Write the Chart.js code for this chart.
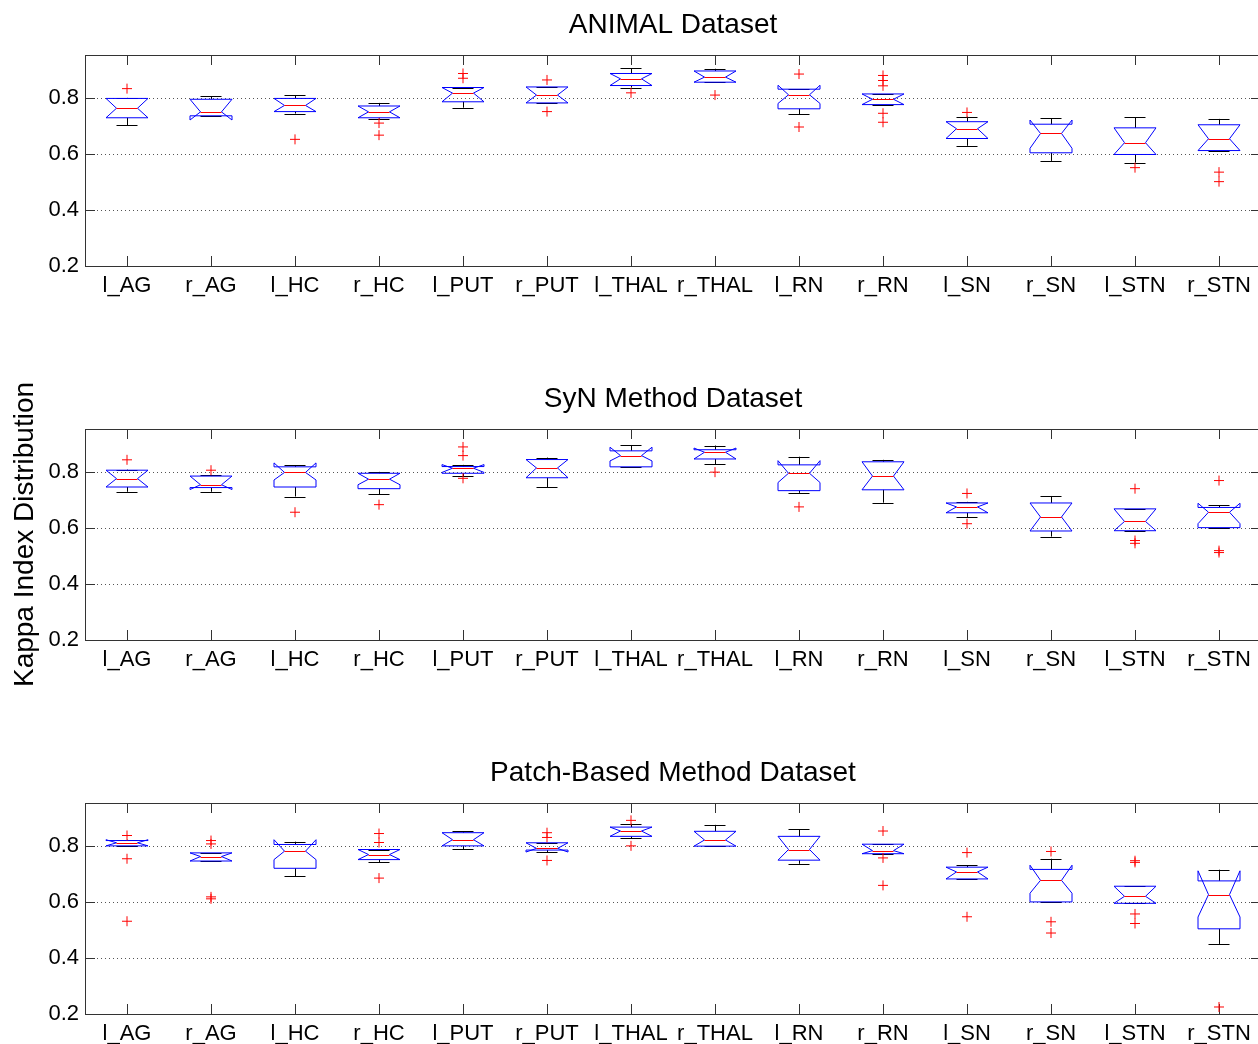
<!DOCTYPE html>
<html>
<head>
<meta charset="utf-8">
<script src="https://cdn.jsdelivr.net/npm/chart.js@4.4.0/dist/chart.umd.min.js"></script>
<style>
body { margin: 0; background: #fff; }
#wrap { position: relative; width: 1258px; height: 1044px; overflow: hidden; }
.panel { position: absolute; left: 0; width: 1261px; height: 340px; }
</style>
</head>
<body>
<div id="wrap">
  <div class="panel" style="top:0px"><canvas id="c1"></canvas></div>
  <div class="panel" style="top:374px"><canvas id="c2"></canvas></div>
  <div class="panel" style="top:748px"><canvas id="c3"></canvas></div>
</div>
<script>
const categories = ["l_AG", "r_AG", "l_HC", "r_HC", "l_PUT", "r_PUT", "l_THAL", "r_THAL", "l_RN", "r_RN", "l_SN", "r_SN", "l_STN", "r_STN"]
const yTicks = [0.2, 0.4, 0.6, 0.8]
const yMin = 0.2
const yMax = 0.953

// ANIMAL Dataset
const animalHi   = [0.800, 0.806, 0.810, 0.782, 0.837, 0.839, 0.906, 0.904, 0.831, 0.814, 0.733, 0.727, 0.731, 0.725]
const animalQ3   = [0.798, 0.795, 0.798, 0.771, 0.837, 0.839, 0.887, 0.896, 0.831, 0.814, 0.715, 0.706, 0.693, 0.704]
const animalNHi  = [0.798, 0.795, 0.798, 0.771, 0.837, 0.839, 0.887, 0.896, 0.845, 0.814, 0.715, 0.721, 0.693, 0.704]
const animalMed  = [0.763, 0.750, 0.773, 0.750, 0.817, 0.810, 0.868, 0.874, 0.811, 0.795, 0.690, 0.673, 0.640, 0.654]
const animalNLo  = [0.729, 0.721, 0.751, 0.729, 0.786, 0.782, 0.844, 0.856, 0.780, 0.776, 0.655, 0.620, 0.598, 0.612]
const animalQ1   = [0.729, 0.736, 0.751, 0.729, 0.786, 0.782, 0.844, 0.856, 0.761, 0.776, 0.655, 0.604, 0.598, 0.612]
const animalLo   = [0.702, 0.736, 0.744, 0.726, 0.765, 0.782, 0.837, 0.856, 0.742, 0.776, 0.629, 0.575, 0.569, 0.612]
const animalOut  = [[0.833], [], [0.652], [0.710, 0.667], [0.887, 0.870], [0.864, 0.751], [0.818], [0.810],
                    [0.885, 0.696], [0.880, 0.862, 0.843, 0.745, 0.713], [0.748], [], [0.551], [0.535, 0.501]]

// SyN Method Dataset
const synHi   = [0.808, 0.788, 0.824, 0.800, 0.825, 0.851, 0.896, 0.894, 0.854, 0.843, 0.693, 0.714, 0.668, 0.680]
const synQ3   = [0.806, 0.785, 0.818, 0.795, 0.819, 0.844, 0.875, 0.879, 0.825, 0.836, 0.689, 0.689, 0.668, 0.673]
const synNHi  = [0.806, 0.785, 0.832, 0.795, 0.826, 0.844, 0.888, 0.885, 0.840, 0.836, 0.689, 0.689, 0.668, 0.688]
const synMed  = [0.776, 0.754, 0.798, 0.774, 0.813, 0.814, 0.858, 0.870, 0.795, 0.785, 0.675, 0.639, 0.623, 0.656]
const synNLo  = [0.746, 0.737, 0.771, 0.754, 0.798, 0.779, 0.839, 0.846, 0.762, 0.736, 0.654, 0.589, 0.590, 0.615]
const synQ1   = [0.746, 0.744, 0.746, 0.740, 0.795, 0.779, 0.818, 0.846, 0.733, 0.736, 0.654, 0.589, 0.590, 0.601]
const synLo   = [0.729, 0.729, 0.712, 0.721, 0.785, 0.746, 0.818, 0.827, 0.725, 0.690, 0.638, 0.569, 0.590, 0.601]
const synOut  = [[0.843], [0.806], [0.656], [0.683], [0.889, 0.858, 0.777], [], [], [0.799],
                 [0.675], [], [0.723, 0.615], [], [0.740, 0.555, 0.545], [0.769, 0.519, 0.512]]

// Patch-Based Method Dataset
const patchHi   = [0.822, 0.775, 0.815, 0.787, 0.853, 0.811, 0.879, 0.875, 0.860, 0.806, 0.730, 0.754, 0.656, 0.715]
const patchQ3   = [0.819, 0.775, 0.805, 0.787, 0.847, 0.811, 0.867, 0.852, 0.834, 0.806, 0.724, 0.716, 0.656, 0.675]
const patchNHi  = [0.822, 0.775, 0.822, 0.787, 0.847, 0.811, 0.867, 0.852, 0.834, 0.806, 0.724, 0.731, 0.656, 0.711]
const patchMed  = [0.811, 0.762, 0.781, 0.769, 0.822, 0.791, 0.853, 0.821, 0.787, 0.783, 0.707, 0.677, 0.620, 0.626]
const patchNLo  = [0.800, 0.746, 0.751, 0.751, 0.800, 0.778, 0.834, 0.799, 0.749, 0.772, 0.682, 0.631, 0.595, 0.546]
const patchQ1   = [0.800, 0.746, 0.720, 0.751, 0.800, 0.785, 0.834, 0.799, 0.749, 0.772, 0.682, 0.600, 0.595, 0.504]
const patchLo   = [0.800, 0.746, 0.691, 0.741, 0.788, 0.778, 0.827, 0.799, 0.736, 0.772, 0.682, 0.600, 0.595, 0.450]
const patchOut  = [[0.837, 0.754, 0.531], [0.819, 0.807, 0.618, 0.611], [], [0.844, 0.812, 0.685], [], [0.847, 0.830, 0.748],
                   [0.891, 0.800], [], [], [0.853, 0.757, 0.659], [0.776, 0.547], [0.780, 0.529, 0.489],
                   [0.747, 0.741, 0.557, 0.523], [0.225]]

const font = "Liberation Sans"

function boxPlugin(s) {
  return {
    id: "notchBoxes",
    beforeDatasetsDraw(chart) {
      const ctx = chart.ctx
      const a = chart.chartArea
      const x = chart.scales.x
      const y = chart.scales.y
      const r = v => Math.round(v) + 0.5
      const Y = v => y.getPixelForValue(v)
      const line = (x1, y1, x2, y2) => {
        ctx.beginPath(); ctx.moveTo(x1, y1); ctx.lineTo(x2, y2); ctx.stroke()
      }
      ctx.save()
      ctx.lineWidth = 1

      // dotted grid
      ctx.strokeStyle = "#555"
      ctx.setLineDash([1, 3])
      yTicks.forEach(t => {
        if (t <= yMin) return
        line(a.left, r(Y(t)), a.right, r(Y(t)))
      })
      ctx.setLineDash([])

      // frame and inward ticks
      ctx.strokeStyle = "#333"
      ctx.strokeRect(r(a.left), r(a.top), Math.round(a.right - a.left), Math.round(a.bottom - a.top))
      categories.forEach((c, i) => {
        const cx = r(x.getPixelForValue(i + 1))
        line(cx, a.top, cx, a.top + 10)
        line(cx, a.bottom, cx, a.bottom - 10)
      })
      yTicks.forEach(t => {
        const yy = r(Y(t))
        line(a.left, yy, a.left + 10, yy)
        line(a.right, yy, a.right - 10, yy)
      })

      // boxes
      categories.forEach((c, i) => {
        const cx = x.getPixelForValue(i + 1)
        const w = x.getPixelForValue(i + 1.25) - cx

        ctx.strokeStyle = "#000"
        line(r(cx), Y(s.q3[i]), r(cx), Y(s.hi[i]))
        line(r(cx), Y(s.q1[i]), r(cx), Y(s.lo[i]))
        line(cx - w / 2, r(Y(s.hi[i])), cx + w / 2, r(Y(s.hi[i])))
        line(cx - w / 2, r(Y(s.lo[i])), cx + w / 2, r(Y(s.lo[i])))

        ctx.strokeStyle = "#0000ff"
        ctx.beginPath()
        ctx.moveTo(cx - w, Y(s.q1[i]))
        ctx.lineTo(cx - w, Y(s.nlo[i]))
        ctx.lineTo(cx - w / 2, Y(s.med[i]))
        ctx.lineTo(cx - w, Y(s.nhi[i]))
        ctx.lineTo(cx - w, Y(s.q3[i]))
        ctx.lineTo(cx + w, Y(s.q3[i]))
        ctx.lineTo(cx + w, Y(s.nhi[i]))
        ctx.lineTo(cx + w / 2, Y(s.med[i]))
        ctx.lineTo(cx + w, Y(s.nlo[i]))
        ctx.lineTo(cx + w, Y(s.q1[i]))
        ctx.closePath()
        ctx.stroke()

        ctx.strokeStyle = "#ff0000"
        line(cx - w / 2, r(Y(s.med[i])), cx + w / 2, r(Y(s.med[i])))
      })
      ctx.restore()
    }
  }
}

function makeChart(id, title, stats, outliers, yLabel) {
  const points = outliers.flatMap((list, i) => list.map(v => ({ x: i + 1, y: v })))
  return new Chart(document.getElementById(id), {
    type: "scatter",
    data: {
      datasets: [{
        data: points,
        pointStyle: "cross",
        radius: 5,
        borderColor: "#ff0000",
        backgroundColor: "#ff0000",
        borderWidth: 1
      }]
    },
    options: {
      responsive: true,
      maintainAspectRatio: false,
      animation: false,
      devicePixelRatio: 1,
      layout: { padding: 0, autoPadding: false },
      events: [],
      plugins: {
        legend: { display: false },
        tooltip: { enabled: false },
        title: {
          display: true,
          fullSize: false,
          text: title,
          color: "#000",
          font: { family: font, size: 28, weight: "normal" },
          padding: { top: 8, bottom: 13.4 }
        }
      },
      scales: {
        x: {
          type: "linear",
          min: 0.5,
          max: 14.5,
          grid: { display: false, drawTicks: false },
          border: { display: false },
          afterBuildTicks: s => { s.ticks = categories.map((c, i) => ({ value: i + 1 })) },
          afterFit: s => { s.height = s.chart.height - 266 },
          ticks: {
            autoSkip: false,
            maxRotation: 0,
            padding: 7,
            color: "#000",
            font: { family: font, size: 22 },
            callback: v => categories[Math.round(v) - 1]
          }
        },
        y: {
          min: yMin,
          max: yMax,
          grid: { display: false, drawTicks: false },
          border: { display: false },
          afterBuildTicks: s => { s.ticks = yTicks.map(v => ({ value: v })) },
          afterFit: s => { s.width = 85 },
          ticks: {
            padding: 6,
            color: "#000",
            font: { family: font, size: 22 },
            callback: v => v.toFixed(1)
          },
          title: {
            display: !!yLabel,
            text: yLabel || "",
            color: "#000",
            font: { family: font, size: 28 },
            padding: { top: 8, bottom: 0 }
          }
        }
      }
    },
    plugins: [boxPlugin(stats)]
  })
}

makeChart("c1", "ANIMAL Dataset",
  { hi: animalHi, q3: animalQ3, nhi: animalNHi, med: animalMed, nlo: animalNLo, q1: animalQ1, lo: animalLo }, animalOut)
makeChart("c2", "SyN Method Dataset",
  { hi: synHi, q3: synQ3, nhi: synNHi, med: synMed, nlo: synNLo, q1: synQ1, lo: synLo }, synOut, "Kappa Index Distribution")
makeChart("c3", "Patch-Based Method Dataset",
  { hi: patchHi, q3: patchQ3, nhi: patchNHi, med: patchMed, nlo: patchNLo, q1: patchQ1, lo: patchLo }, patchOut)
</script>
</body>
</html>
